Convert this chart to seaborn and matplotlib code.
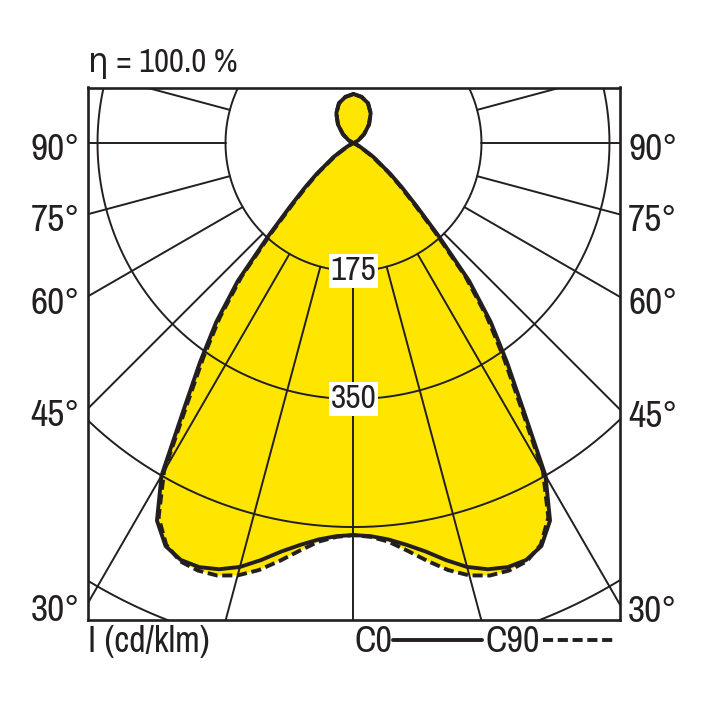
import numpy as np
import pandas as pd
import matplotlib.pyplot as plt
import matplotlib.lines as mlines
import matplotlib.transforms as mtransforms
import seaborn as sns

# luminous intensity, cd/klm, by angle from nadir (deg)
angles = [0, 2.5, 5, 7.5, 10, 12.5, 15, 17.5, 20, 22.5, 25, 27.5, 30, 32.5, 35,
          37.5, 40, 42.5, 45, 47.5, 50, 55, 60, 65, 70, 80, 90, 100, 110, 120,
          130, 140, 150, 160, 170, 180]
c0 = [536, 538, 544, 554, 567, 584, 600, 611, 617, 617, 608, 582, 525, 432, 366,
      308, 246, 172, 122, 90, 66, 33, 11, 3, 0, 0, 0, 0, 2, 8,
      19, 33, 47, 58, 64, 67]
c90 = [536, 539, 547, 562, 580, 598, 612, 620, 622, 619, 606, 577, 518, 424, 358,
       300, 238, 165, 116, 85, 62, 30, 10, 2, 0, 0, 0, 0, 2, 8,
       19, 33, 47, 58, 64, 67]
rings = [175, 350, 525, 700]
ring_labels = ["175", "350"]
angle_labels = [90, 75, 60, 45, 30]
efficiency = "η = 100.0 %"

sns.set_style("white")
plt.rcParams['font.family'] = ['Archivo Narrow', 'DejaVu Sans']

ink = "#231f20"
yellow = "#ffe600"


def curve(vals):
    th = [-a for a in angles[::-1]] + angles[1:]
    r = vals[::-1] + vals[1:]
    th = np.radians(th)
    r = np.array(r, dtype=float)
    return pd.DataFrame({"x": r * np.sin(th), "y": -r * np.cos(th)})


fig = plt.figure(figsize=(7.08, 7.08), dpi=100)
ax = fig.add_axes([87.5 / 708, 88 / 708, 532.5 / 708, 532.5 / 708])
ax.set_xlim(-363.7, 364.4)
ax.set_ylim(-652.1, 75.9)
ax.set_xticks([])
ax.set_yticks([])
for s in ax.spines.values():
    s.set_linewidth(1.9)
    s.set_color(ink)
    s.set_zorder(10)

d0 = curve(c0)
d90 = curve(c90)
ax.fill(d90["x"], d90["y"], color=yellow, lw=0, zorder=1)
ax.fill(d0["x"], d0["y"], color=yellow, lw=0, zorder=1)

# polar grid
t = np.linspace(0, 2 * np.pi, 721)
for r in rings:
    ax.plot(r * np.sin(t), -r * np.cos(t), color=ink, lw=1.4, zorder=2)
for a in range(-165, 180, 15):
    ar = np.radians(a)
    ax.plot([175 * np.sin(ar), 1200 * np.sin(ar)],
            [-175 * np.cos(ar), -1200 * np.cos(ar)], color=ink, lw=1.4, zorder=2)

sns.lineplot(data=d90, x="x", y="y", sort=False, estimator=None, ax=ax,
             color=ink, lw=2.8, linestyle=(0, (2.6, 1.2)), zorder=4)
sns.lineplot(data=d0, x="x", y="y", sort=False, estimator=None, ax=ax,
             color=ink, lw=2.8, zorder=5)
ax.set_xlabel("")
ax.set_ylabel("")

for r, lab in zip(rings, ring_labels):
    ax.text(0, -r, lab, ha="center", va="center", fontsize=24, color=ink, zorder=6,
            bbox=dict(boxstyle="square,pad=0.06", fc="white", ec="none"))

# angle labels on both sides
x0, x1 = ax.get_xlim()
left_tr = mtransforms.offset_copy(ax.transData, fig=fig, x=-8, y=-17, units="dots")
right_tr = mtransforms.offset_copy(ax.transData, fig=fig, x=8, y=-17, units="dots")
for a in angle_labels:
    yl = x0 / np.tan(np.radians(a))
    yr = -x1 / np.tan(np.radians(a))
    ax.text(x0, yl, f"{a}°", transform=left_tr, ha="right", va="baseline",
            fontsize=27, color=ink, clip_on=False)
    ax.text(x1, yr, f"{a}°", transform=right_tr, ha="left", va="baseline",
            fontsize=27, color=ink, clip_on=False)


def fx(x):
    return x / 708


def fy(y):
    return 1 - y / 708


fig.text(fx(88), fy(71.7), efficiency, fontsize=23.5, color=ink, va="baseline")
fig.text(fx(88), fy(651.7), "I (cd/klm)", fontsize=26, color=ink, va="baseline")
fig.text(fx(355), fy(651.7), "C0", fontsize=26, color=ink, va="baseline")
fig.text(fx(486), fy(651.7), "C90", fontsize=26, color=ink, va="baseline")
fig.add_artist(mlines.Line2D([fx(393), fx(482)], [fy(639.5), fy(639.5)],
                             color=ink, lw=2.8))
fig.add_artist(mlines.Line2D([fx(543), fx(616)], [fy(639.5), fy(639.5)],
                             color=ink, lw=2.8, linestyle=(0, (2.6, 1.2))))

fig.savefig("out.png", dpi=100)
